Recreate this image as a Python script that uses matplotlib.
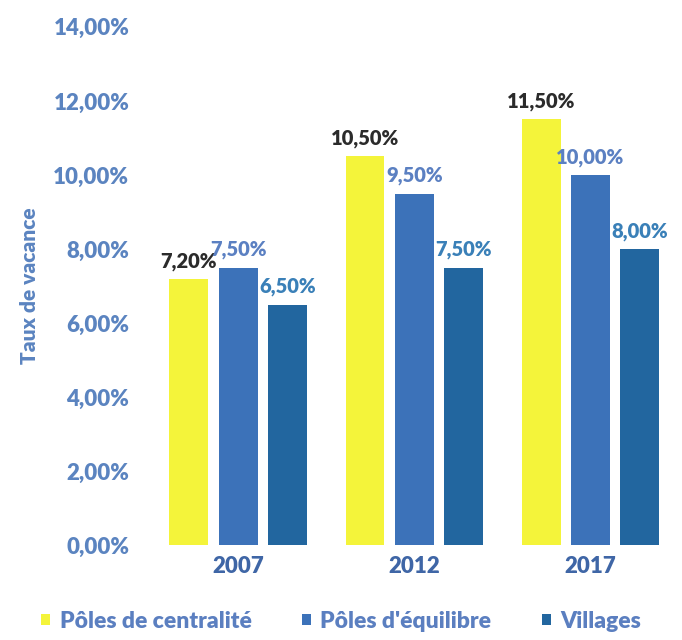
import matplotlib.pyplot as plt
import numpy as np

# ---------------------------------------------------------- #
#  Data                                                      #
# ---------------------------------------------------------- #
years = ['2007', '2012', '2017']
series_names = ['Pôles de centralité', "Pôles d'équilibre", 'Villages']
centralite = [7.2, 10.5, 11.5]
equilibre = [7.5, 9.5, 10.0]
villages = [6.5, 7.5, 8.0]

BAR_COLORS = ['#F4F43A', '#3C72B9', '#22669F']
LABEL_COLORS = ['#2B2B2B', '#5B80C2', '#3A80B8']
TICK_COLOR = '#5B84C0'

plt.rcParams['font.family'] = ['Lato', 'DejaVu Sans']


def fmt(v):
    return '{:.2f}%'.format(v).replace('.', ',')


def main():
    fig = plt.figure(figsize=(6.82, 6.4), dpi=100)
    ax = fig.add_axes([0.22, 0.148, 0.775, 0.81])

    x = np.arange(len(years))
    width = 0.22
    offsets = [-0.28, 0.0, 0.28]
    all_series = [centralite, equilibre, villages]

    for i, values in enumerate(all_series):
        bars = ax.bar(x + offsets[i], values, width, color=BAR_COLORS[i],
                      label=series_names[i])
        for b, v in zip(bars, values):
            ax.text(b.get_x() + b.get_width() / 2, v + 0.22, fmt(v),
                    ha='center', va='bottom', fontsize=14.5,
                    fontweight='heavy', color=LABEL_COLORS[i])

    ax.set_ylim(0, 14)
    ax.set_xlim(-0.5, 2.5)
    ax.set_yticks(np.arange(0, 15, 2))
    ax.set_yticklabels([fmt(v) for v in np.arange(0, 15, 2)])
    ax.set_xticks(x)
    ax.set_xticklabels(years)

    for s in ax.spines.values():
        s.set_visible(False)
    ax.tick_params(length=0)
    ax.tick_params(axis='y', labelsize=16, labelcolor=TICK_COLOR, pad=15)
    ax.tick_params(axis='x', labelsize=16, labelcolor='#3F66A6', pad=8)
    for lab in ax.get_xticklabels() + ax.get_yticklabels():
        lab.set_fontweight('heavy')

    ax.set_ylabel('Taux de vacance', fontsize=15, fontweight='heavy',
                  color=TICK_COLOR, labelpad=10)

    leg = fig.legend(loc='lower center', bbox_to_anchor=(0.5, -0.012),
                     ncol=3, frameon=False, fontsize=16.5, handlelength=0.4,
                     handleheight=0.4, handletextpad=0.4, columnspacing=2.2,
                     borderpad=0.2)
    for t in leg.get_texts():
        t.set_color('#5B7FC0')
        t.set_fontweight('heavy')

    fig.savefig('out.png', dpi=100)


if __name__ == "__main__":
    main()
